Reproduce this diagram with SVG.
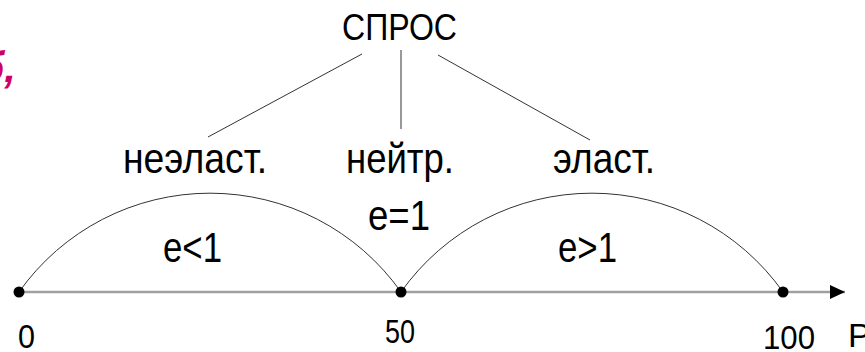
<svg xmlns="http://www.w3.org/2000/svg" width="865" height="352" viewBox="0 0 865 352">
<style>
text{font-family:"Liberation Sans",Arial,sans-serif;fill:#000}
.t{font-size:42px;text-anchor:start}
.n{font-size:34px}
.c{stroke:#333;stroke-width:1;fill:none}
.axis{stroke:#a0a0a0;stroke-width:2.5}
</style>
<defs>
<marker id="ah" markerWidth="16" markerHeight="16" refX="15" refY="7" orient="auto" markerUnits="userSpaceOnUse">
<path d="M0,0 L15,7 L0,14 Z" fill="#000"/>
</marker>
</defs>
<rect width="865" height="352" fill="#fff"/>
<text x="16" y="82" text-anchor="end" style="font-size:42px;font-weight:bold;font-style:italic;fill:#cc0066">б,</text>
<g id="connectors">
<line class="c" x1="362" y1="54" x2="208" y2="137"/>
<line class="c" x1="401" y1="50" x2="401" y2="129"/>
<line class="c" x1="438" y1="55" x2="590" y2="140"/>
<path class="c" d="M19,292 A234,234 0 0 1 401,292"/>
<path class="c" d="M401,292 A234,234 0 0 1 783,292"/>
<line class="axis" x1="19" y1="292" x2="845" y2="292" marker-end="url(#ah)"/>
</g>
<g id="spros"><text x="342" y="40" style="font-size:36px" textLength="115" lengthAdjust="spacingAndGlyphs">СПРОС</text></g>
<g id="neelast"><text class="t" x="123" y="173" textLength="144" lengthAdjust="spacingAndGlyphs">неэласт.</text></g>
<g id="neitr"><text class="t" x="346" y="173" textLength="108" lengthAdjust="spacingAndGlyphs">нейтр.</text></g>
<g id="elast"><text class="t" x="553" y="173" textLength="102" lengthAdjust="spacingAndGlyphs">эласт.</text></g>
<g id="e1"><text class="t" x="368" y="230" textLength="62" lengthAdjust="spacingAndGlyphs">e=1</text></g>
<g id="elt"><text class="t" x="163" y="262" textLength="59" lengthAdjust="spacingAndGlyphs">e&lt;1</text></g>
<g id="egt"><text class="t" x="558" y="262" textLength="59" lengthAdjust="spacingAndGlyphs">e&gt;1</text></g>
<g id="p0"><circle cx="19" cy="292" r="5.5" fill="#000"/><text class="n" x="18" y="348" textLength="17" lengthAdjust="spacingAndGlyphs">0</text></g>
<g id="p50"><circle cx="401" cy="292" r="5.5" fill="#000"/><text class="n" x="385" y="343" textLength="30" lengthAdjust="spacingAndGlyphs">50</text></g>
<g id="p100"><circle cx="783" cy="292" r="5.5" fill="#000"/><text class="n" x="763" y="349" textLength="52" lengthAdjust="spacingAndGlyphs">100</text></g>
<g id="pl"><text class="n" x="848" y="347">P</text></g>
</svg>
